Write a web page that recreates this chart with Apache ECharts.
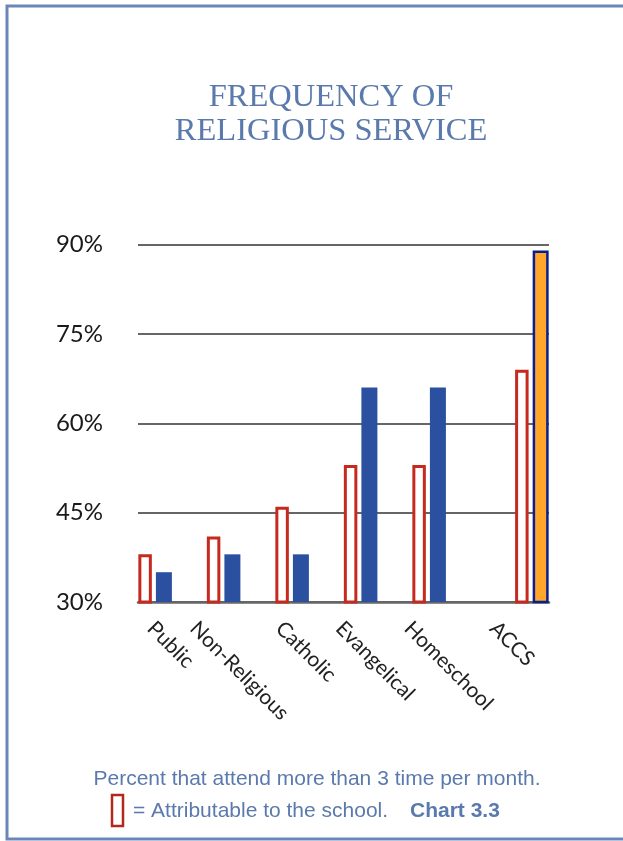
<!DOCTYPE html>
<html>
<head>
<meta charset="utf-8">
<script src="https://cdn.jsdelivr.net/npm/echarts@6/dist/echarts.min.js"></script>
<style>
  html, body { margin: 0; padding: 0; background: #ffffff; }
  #chart { width: 623px; height: 841px; }
</style>
</head>
<body>
<div id="chart"></div>
<script>
// ---- data ----
const categories = ['Public', 'Non-Religious', 'Catholic', 'Evangelical', 'Homeschool', 'ACCS'];
const attributable = [38, 41, 46, 53, 53, 69];   // red outlined bars
const attendance = [35, 38, 38, 66, 66, 89];     // blue bars (ACCS highlighted)
const yTicks = [30, 45, 60, 75, 90];
const highlightCategory = 'ACCS';

// ---- layout (slot placement on band axes) ----
const barSlotCount = 12;
const barSlots = [0, 2, 4, 6, 8, 11];
const labelSlotCount = 48;
const labelSlots = [1, 6, 16, 23, 31, 41];

function spread(values, slots, count, fillVal) {
  const out = new Array(count).fill(fillVal);
  slots.forEach((s, i) => { out[s] = values[i]; });
  return out;
}

const hiIdx = categories.indexOf(highlightCategory);
const blueData = spread(attendance.map((v, i) => i === hiIdx
  ? { value: v, itemStyle: { color: '#FFA62B', borderColor: '#0A1E8E', borderWidth: 2.5 } }
  : v), barSlots, barSlotCount, null);
const redData = spread(attributable, barSlots, barSlotCount, null);

const barAxisData = spread(categories, barSlots, barSlotCount, '').map((c, i) => c || ('_' + i));
const labelAxisData = spread(categories, labelSlots, labelSlotCount, '').map((c, i) => c || (' '.repeat(i + 1)));

const titleColor = '#5A79AD';
const labelFont = 'Lato, "Open Sans", sans-serif';

const chart = echarts.init(document.getElementById('chart'), null, { renderer: 'canvas' });
chart.setOption({
  animation: false,
  backgroundColor: '#ffffff',
  grid: {
    left: 138, right: 74, top: 244.5, bottom: 239,
    containLabel: false, outerBoundsMode: 'none'
  },
  xAxis: [
    {
      type: 'category',
      data: barAxisData,
      axisLine: { show: true, lineStyle: { color: '#666666', width: 2.5 } },
      axisTick: { show: false },
      axisLabel: { show: false },
      splitLine: { show: false }
    },
    {
      type: 'category',
      position: 'bottom',
      data: labelAxisData,
      axisLine: { show: false },
      axisTick: { show: false },
      splitLine: { show: false },
      axisLabel: {
        show: true,
        interval: 0,
        rotate: -45,
        margin: 23,
        fontFamily: labelFont,
        fontSize: 21,
        color: '#222222',
        formatter: v => (v.trim() === '' ? '' : v)
      }
    }
  ],
  yAxis: {
    type: 'value',
    min: yTicks[0],
    max: yTicks[yTicks.length - 1],
    interval: yTicks[1] - yTicks[0],
    axisLine: { show: false },
    axisTick: { show: false },
    axisLabel: {
      formatter: '{value}%',
      margin: 35,
      fontFamily: labelFont,
      fontSize: 24,
      color: '#1a1a1a'
    },
    splitLine: { show: true, lineStyle: { color: '#666666', width: 2 } }
  },
  series: [
    {
      name: 'Attributable to the school',
      type: 'bar',
      xAxisIndex: 0,
      data: redData,
      barWidth: 13.5,
      barGap: '30%',
      itemStyle: { color: '#ffffff', borderColor: '#C62A1E', borderWidth: 3 },
      z: 3
    },
    {
      name: 'Attend more than 3 times per month',
      type: 'bar',
      xAxisIndex: 0,
      data: blueData,
      barWidth: 16,
      itemStyle: { color: '#2B50A0' },
      z: 3
    }
  ],
  graphic: [
    {
      type: 'rect',
      shape: { x: 7, y: 6, width: 640, height: 833 },
      style: { fill: 'none', stroke: '#6A87B8', lineWidth: 3 },
      silent: true, z: 0
    },
    {
      type: 'text',
      x: 331, y: 80,
      style: {
        text: 'FREQUENCY OF\nRELIGIOUS SERVICE',
        align: 'center', verticalAlign: 'top',
        fontFamily: '"Liberation Serif", "DejaVu Serif", serif',
        fontSize: 32.5,
        lineHeight: 34,
        fill: titleColor
      }
    },
    {
      type: 'text',
      x: 317, y: 779,
      style: {
        text: 'Percent that attend more than 3 time per month.',
        align: 'center', verticalAlign: 'middle',
        fontFamily: '"Liberation Sans", Arial, sans-serif',
        fontSize: 21,
        fill: titleColor
      }
    },
    {
      type: 'rect',
      shape: { x: 112, y: 795, width: 11, height: 31 },
      style: { fill: '#ffffff', stroke: '#B2281C', lineWidth: 2.5 }
    },
    {
      type: 'text',
      x: 133, y: 811,
      style: {
        text: '= Attributable to the school.',
        align: 'left', verticalAlign: 'middle',
        fontFamily: '"Liberation Sans", Arial, sans-serif',
        fontSize: 21,
        fill: titleColor
      }
    },
    {
      type: 'text',
      x: 410, y: 811,
      style: {
        text: 'Chart 3.3',
        align: 'left', verticalAlign: 'middle',
        fontFamily: '"Liberation Sans", Arial, sans-serif',
        fontSize: 21,
        fontWeight: 'bold',
        fill: titleColor
      }
    }
  ]
});
</script>
</body>
</html>
